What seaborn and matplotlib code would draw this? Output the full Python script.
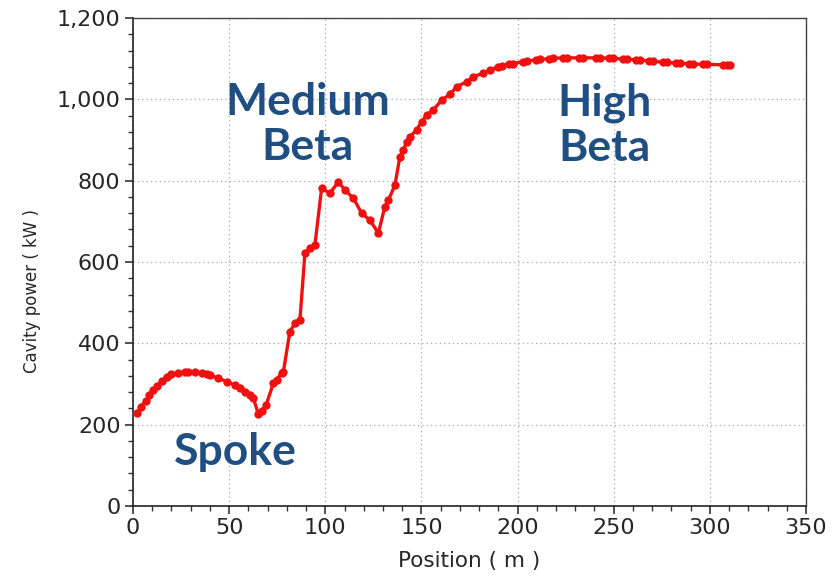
import matplotlib
matplotlib.use("Agg")
import matplotlib.pyplot as plt
import seaborn as sns
import pandas as pd
from matplotlib.ticker import MultipleLocator, FuncFormatter

# Data
position = [2.2, 4.0, 6.8, 8.5, 10.6, 12.3, 14.9, 17.5, 20.0, 23.6, 27.0, 28.8,
            32.2, 35.7, 38.3, 40.0, 44.4, 48.7, 53.0, 55.6, 58.2, 60.8, 62.6,
            65.2, 66.9, 69.2, 73.0, 74.7, 77.3, 78.2,
            81.6, 84.2, 86.8, 89.4, 92.0, 94.6, 98.1, 102.4, 106.8, 110.2,
            114.6, 118.9, 123.2, 127.6, 131.0, 132.8, 136.2, 138.8, 140.6,
            142.3, 144.0, 147.5, 150.1, 152.7, 156.2, 160.5, 164.8, 168.3,
            173.5, 177.0, 182.2, 185.6, 189.7, 191.7, 195.8, 197.8, 202.7,
            204.7, 209.6, 211.6, 216.6, 218.6, 223.5, 225.5, 232.2, 234.2,
            240.8, 242.8, 247.8, 249.8, 254.7, 256.7, 261.6, 263.6, 268.6,
            270.6, 275.5, 277.5, 282.5, 284.5, 289.4, 291.4, 296.3, 298.3,
            306.7, 308.7, 310.5]
power = [228, 244, 259, 273, 285, 295, 308, 318, 324, 328, 329, 330,
         330, 326, 324, 322, 314, 306, 297, 289, 281, 273, 265,
         226, 234, 248, 302, 311, 326, 330,
         429, 449, 457, 621, 634, 642, 781, 769, 797, 777,
         757, 720, 703, 671, 736, 752, 789, 859, 875,
         896, 908, 925, 945, 961, 974, 998, 1012, 1031,
         1043, 1056, 1064, 1072, 1080, 1082, 1087, 1088, 1093,
         1094, 1097, 1098, 1100, 1101, 1102, 1102, 1102, 1102,
         1102, 1102, 1101, 1101, 1099, 1099, 1097, 1097, 1094,
         1094, 1091, 1091, 1089, 1089, 1087, 1087, 1086, 1086,
         1085, 1085, 1084]

x_ticks = [0, 50, 100, 150, 200, 250, 300, 350]
y_ticks = [0, 200, 400, 600, 800, 1000, 1200]

section_labels = ["Spoke", "Medium\nBeta", "High\nBeta"]
section_x = [53, 91, 245]
section_y = [133, 937, 937]

df = pd.DataFrame({"Position": position, "Power": power})

sns.set_theme(style="ticks")
plt.rcParams['font.family'] = ['DejaVu Sans']

fig = plt.figure(figsize=(8.38, 5.79), dpi=100)
ax = fig.add_axes([133/838, 1 - 506/579, (806-133)/838, (506-18)/579])

sns.lineplot(data=df, x="Position", y="Power", ax=ax, color="#F01010",
             linewidth=2.4, marker="o", markersize=6, markeredgewidth=0,
             markerfacecolor="#F01010", estimator=None, sort=False, zorder=3)

ax.set_xlim(0, 350)
ax.set_ylim(0, 1200)
ax.set_xticks(x_ticks)
ax.set_yticks(y_ticks)
ax.xaxis.set_minor_locator(MultipleLocator(10))
ax.yaxis.set_minor_locator(MultipleLocator(40))
ax.yaxis.set_major_formatter(FuncFormatter(lambda v, p: f"{int(v):,}"))
ax.tick_params(axis="both", which="major", length=6, width=1.2, labelsize=16,
               color="#333333", direction="out", pad=3)
ax.tick_params(axis="both", which="minor", length=3.5, width=1.0,
               color="#333333", direction="out")
ax.tick_params(top=False, right=False, which="both")

ax.grid(True, which="major", linestyle=(0, (1, 2.5)), color="#A8A8A8", linewidth=0.9)
ax.set_axisbelow(True)
for name, s in ax.spines.items():
    s.set_visible(True)
    s.set_color("#222222" if name in ("left", "bottom") else "#444444")
    s.set_linewidth(1.2 if name in ("left", "bottom") else 1.0)

ax.set_xlabel("Position ( m )", fontsize=15.5, labelpad=9)
ax.set_ylabel("Cavity power ( kW )", fontsize=12)
ax.yaxis.set_label_coords(-0.137, 0.44)

for lab, tx, ty in zip(section_labels, section_x, section_y):
    ax.text(tx, ty, lab, ha="center", va="center", fontsize=32,
            fontweight="bold", color="#1F4E82", family=["Lato", "DejaVu Sans"],
            linespacing=1.15, zorder=4)

fig.savefig("out.png", dpi=100, facecolor="white")
